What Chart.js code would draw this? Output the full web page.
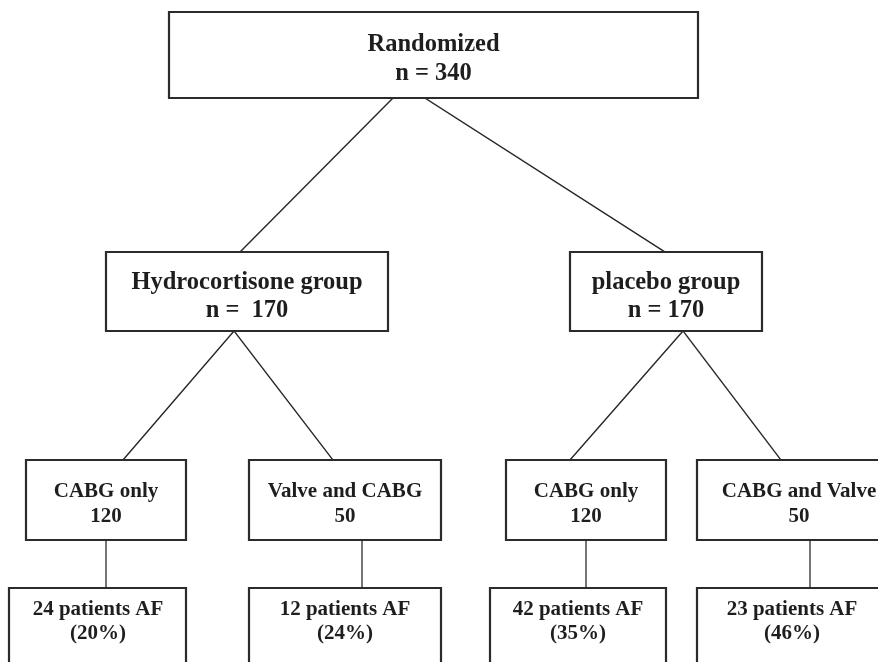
<!DOCTYPE html>
<html lang="en">
<head>
    <meta charset="UTF-8">
    <title>Randomization flow chart</title>
    <style>
        html, body { margin: 0; padding: 0; background: #fff; }
        #wrap { width: 878px; height: 662px; position: relative; }
    </style>
</head>
<body>
    <div id="wrap"><canvas id="myChart"></canvas></div>

    <script src="https://cdn.jsdelivr.net/npm/chart.js"></script>
    <script>
        // data
        const rootLabel = 'Randomized';
        const totalN = 340;
        const groupNames = ['Hydrocortisone group', 'placebo group'];
        const groupN = [170, 170];
        const surgeryTypes = ['CABG only', 'Valve and CABG', 'CABG only', 'CABG and Valve'];
        const surgeryN = [120, 50, 120, 50];
        const afPatients = [24, 12, 42, 23];
        const afPercent = [20, 24, 35, 46];

        // layout of the boxes (axis units = pixels)
        const rootBox = { x0: 169, x1: 698, y0: 12, y1: 98, cx: 433.5 };
        const groupBoxes = [
            { x0: 106, x1: 388, y0: 252, y1: 331, cx: 247 },
            { x0: 570, x1: 762, y0: 252, y1: 331, cx: 666 }
        ];
        const surgeryBoxes = [
            { x0: 26, x1: 186, y0: 460, y1: 540, cx: 106 },
            { x0: 249, x1: 441, y0: 460, y1: 540, cx: 345 },
            { x0: 506, x1: 666, y0: 460, y1: 540, cx: 586 },
            { x0: 697, x1: 884, y0: 460, y1: 540, cx: 799 }
        ];
        const afBoxes = [
            { x0: 9, x1: 186, y0: 588, y1: 680, cx: 98 },
            { x0: 249, x1: 441, y0: 588, y1: 680, cx: 345 },
            { x0: 490, x1: 666, y0: 588, y1: 680, cx: 578 },
            { x0: 697, x1: 888, y0: 588, y1: 680, cx: 792 }
        ];
        // where the branch lines leave / reach the boxes
        const rootExits = [393, 425];
        const groupEntries = [240, 665];
        const groupExits = [234, 683];
        const surgeryEntries = [123, 333, 570, 781];
        const stemX = [106, 362, 586, 810];

        const ink = '#262626';
        const datasets = [];

        function boxData(b) {
            return [
                { x: b.x0, y: b.y0 }, { x: b.x1, y: b.y0 },
                { x: b.x1, y: b.y1 }, { x: b.x0, y: b.y1 }, { x: b.x0, y: b.y0 }
            ];
        }
        function addLine(points, width, color) {
            datasets.push({
                data: points,
                showLine: true,
                pointRadius: 0,
                borderColor: color,
                borderWidth: width,
                tension: 0,
                clip: false,
                borderJoinStyle: 'miter',
                borderCapStyle: 'square'
            });
        }

        [rootBox].concat(groupBoxes, surgeryBoxes, afBoxes).forEach(b => addLine(boxData(b), 2.2, '#2b2b2b'));

        groupBoxes.forEach((g, i) => {
            addLine([{ x: rootExits[i], y: rootBox.y1 }, { x: groupEntries[i], y: g.y0 }], 1.4, ink);
        });
        surgeryBoxes.forEach((s, i) => {
            const g = groupBoxes[Math.floor(i / 2)];
            addLine([{ x: groupExits[Math.floor(i / 2)], y: g.y1 }, { x: surgeryEntries[i], y: s.y0 }], 1.4, ink);
            addLine([{ x: stemX[i], y: s.y1 }, { x: stemX[i], y: afBoxes[i].y0 }], 1.5, '#4a4a4a');
        });

        const labels = [];
        labels.push({ box: rootBox, lines: [rootLabel, 'n = ' + totalN], base: [51, 80], size: 24.5 });
        groupBoxes.forEach((b, i) => {
            labels.push({ box: b, lines: [groupNames[i], (i === 0 ? 'n =  ' : 'n = ') + groupN[i]], base: [289, 317], size: 24.5 });
        });
        surgeryBoxes.forEach((b, i) => {
            labels.push({ box: b, lines: [surgeryTypes[i], String(surgeryN[i])], base: [497, 522], size: 21 });
        });
        afBoxes.forEach((b, i) => {
            labels.push({ box: b, lines: [afPatients[i] + ' patients AF', '(' + afPercent[i] + '%)'], base: [615, 639], size: 21 });
        });

        const textPlugin = {
            id: 'boxText',
            afterDatasetsDraw(chart) {
                const ctx = chart.ctx;
                const xs = chart.scales.x, ys = chart.scales.y;
                ctx.save();
                ctx.fillStyle = '#1e1e1e';
                ctx.textAlign = 'center';
                ctx.textBaseline = 'alphabetic';
                labels.forEach(l => {
                    ctx.font = 'bold ' + l.size + 'px "Liberation Serif", "Times New Roman", serif';
                    l.lines.forEach((t, k) => {
                        ctx.fillText(t, xs.getPixelForValue(l.box.cx), ys.getPixelForValue(l.base[k]));
                    });
                });
                ctx.restore();
            }
        };

        const ctx = document.getElementById('myChart').getContext('2d');
        new Chart(ctx, {
            type: 'scatter',
            data: { datasets: datasets },
            options: {
                responsive: true,
                maintainAspectRatio: false,
                animation: false,
                layout: { padding: 0 },
                plugins: { legend: { display: false }, tooltip: { enabled: false } },
                scales: {
                    x: { type: 'linear', min: 0, max: 878, display: false },
                    y: { type: 'linear', min: 0, max: 662, reverse: true, display: false }
                }
            },
            plugins: [textPlugin]
        });
    </script>
</body>
</html>
